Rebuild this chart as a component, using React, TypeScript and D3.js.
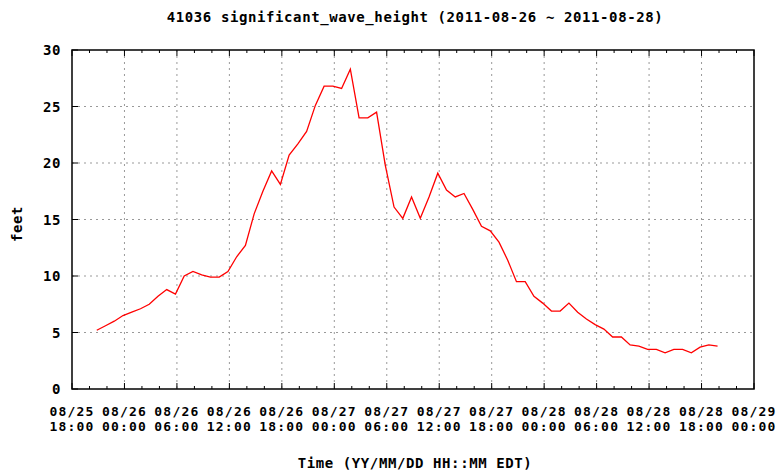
import * as d3 from "d3";

// 41036 significant wave height, hourly readings (EDT wall-clock times)
const startTime = "2011-08-25T20:50:00Z";
const waveHeight = [
  5.2, 5.6, 6.0, 6.5, 6.8, 7.1, 7.5, 8.2, 8.8, 8.4,
  10.0, 10.4, 10.1, 9.9, 9.9, 10.4, 11.7, 12.7, 15.5, 17.5,
  19.3, 18.1, 20.7, 21.7, 22.8, 25.1, 26.8, 26.8, 26.6, 28.3,
  24.0, 24.0, 24.5, 19.8, 16.1, 15.1, 17.0, 15.1, 17.0, 19.1,
  17.6, 17.0, 17.3, 15.9, 14.4, 14.0, 13.0, 11.4, 9.5, 9.5,
  8.2, 7.6, 6.9, 6.9, 7.6, 6.8, 6.2, 5.7, 5.3, 4.6,
  4.6, 3.9, 3.8, 3.5, 3.5, 3.2, 3.5, 3.5, 3.2, 3.7,
  3.9, 3.8,
];
const yTicks = [0, 5, 10, 15, 20, 25, 30];
const xDomain = ["2011-08-25T18:00:00Z", "2011-08-29T00:00:00Z"];

const titleText = "41036 significant_wave_height (2011-08-26 ~ 2011-08-28)";
const xLabel = "Time (YY/MM/DD HH::MM EDT)";
const yLabel = "feet";

const W = 779;
const H = 473;
const plot = { left: 72, right: 754, top: 50, bottom: 389 };

const font = {
  fontFamily: "'DejaVu Sans Mono', monospace",
  fontWeight: "bold" as const,
  fontSize: 14,
  letterSpacing: 0.6,
};
const tickFont = { ...font, fontSize: 13, letterSpacing: 1.2 };

export default function App() {
  const t0 = new Date(startTime);
  const data = waveHeight.map((v, i) => ({ t: d3.utcHour.offset(t0, i), v }));

  const x = d3
    .scaleUtc()
    .domain(xDomain.map((d) => new Date(d)))
    .range([plot.left, plot.right]);
  const y = d3.scaleLinear().domain([0, 30]).range([plot.bottom, plot.top]);

  const majors = x.ticks(d3.utcHour.every(6)!);
  const minors = x.ticks(d3.utcHour.every(2)!).filter((d) => d.getUTCHours() % 6 !== 0);
  const fmtDay = d3.utcFormat("%m/%d");
  const fmtTime = d3.utcFormat("%H:%M");

  const line = d3
    .line<{ t: Date; v: number }>()
    .x((d) => x(d.t))
    .y((d) => y(d.v));

  const grid = { stroke: "#999", strokeWidth: 1, strokeDasharray: "2,4" };

  return (
    <svg
      width={W}
      height={H}
      style={{ position: "absolute", left: 0, top: 0, background: "#fff" }}
    >
      <text x={415} y={22} textAnchor="middle" {...font}>
        {titleText}
      </text>

      {/* grid */}
      {yTicks.slice(1, -1).map((t) => (
        <line key={"gy" + t} x1={plot.left} x2={plot.right} y1={y(t)} y2={y(t)} {...grid} />
      ))}
      {majors.slice(1, -1).map((d) => (
        <line key={"gx" + +d} x1={x(d)} x2={x(d)} y1={plot.top} y2={plot.bottom} {...grid} />
      ))}

      {/* ticks */}
      {majors.map((d) => (
        <g key={"mt" + +d}>
          <line x1={x(d)} x2={x(d)} y1={plot.bottom} y2={plot.bottom - 6} stroke="#000" />
          <line x1={x(d)} x2={x(d)} y1={plot.top} y2={plot.top + 6} stroke="#000" />
          <text x={x(d)} y={416} textAnchor="middle" {...tickFont}>
            {fmtDay(d)}
          </text>
          <text x={x(d)} y={431} textAnchor="middle" {...tickFont}>
            {fmtTime(d)}
          </text>
        </g>
      ))}
      {minors.map((d) => (
        <g key={"nt" + +d}>
          <line x1={x(d)} x2={x(d)} y1={plot.bottom} y2={plot.bottom - 3} stroke="#000" />
          <line x1={x(d)} x2={x(d)} y1={plot.top} y2={plot.top + 3} stroke="#000" />
        </g>
      ))}
      {yTicks.map((t) => (
        <g key={"yt" + t}>
          <line x1={plot.left} x2={plot.left + 6} y1={y(t)} y2={y(t)} stroke="#000" />
          <text x={61} y={y(t) + 5} textAnchor="end" {...font}>
            {t}
          </text>
        </g>
      ))}

      <path d={line(data) ?? ""} fill="none" stroke="#ff0000" strokeWidth={1.3} />

      <rect
        x={plot.left}
        y={plot.top}
        width={plot.right - plot.left}
        height={plot.bottom - plot.top}
        fill="none"
        stroke="#000"
        strokeWidth={1.5}
      />

      <text x={415} y={468} textAnchor="middle" {...font}>
        {xLabel}
      </text>
      <text transform="translate(22,224) rotate(-90)" textAnchor="middle" {...font}>
        {yLabel}
      </text>
    </svg>
  );
}
